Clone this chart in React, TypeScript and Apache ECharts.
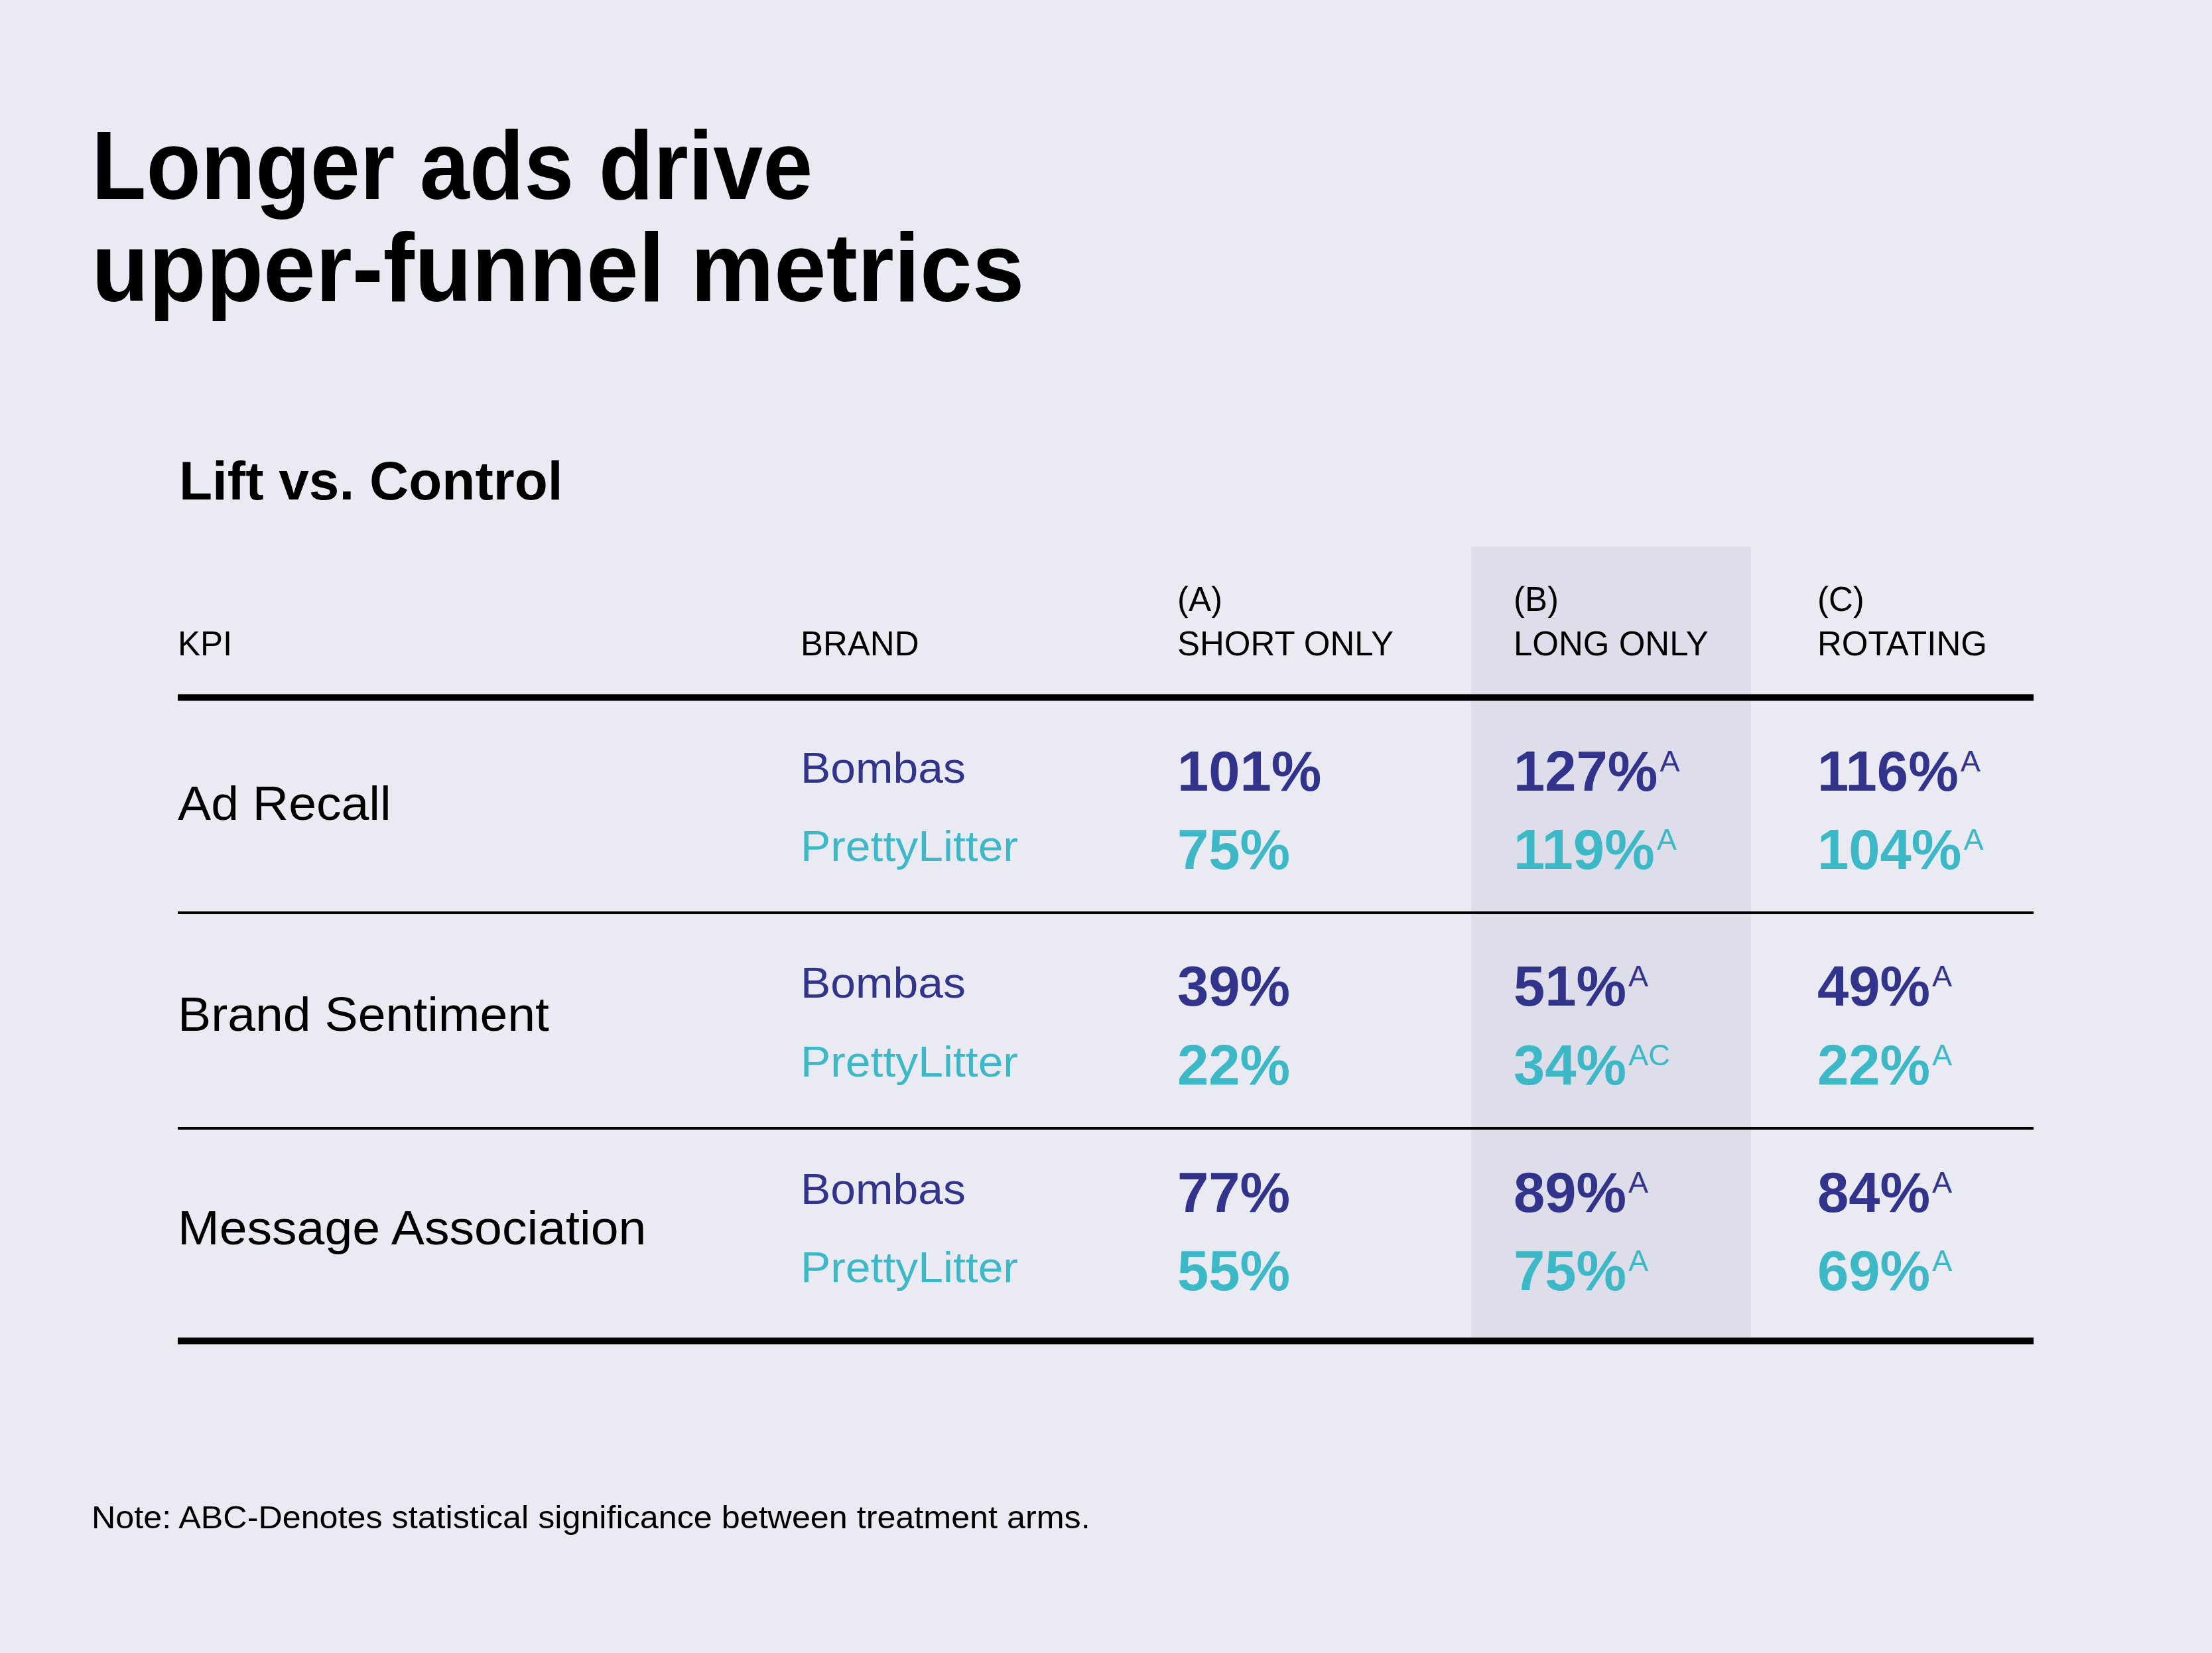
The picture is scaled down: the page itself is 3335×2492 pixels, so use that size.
import React, { useEffect, useRef } from "react";
import * as echarts from "echarts";

// ---------- data ----------
const TITLE_LINES = ["Longer ads drive", "upper-funnel metrics"];
const SUBTITLE = "Lift vs. Control";
const HEADER_KPI = "KPI";
const HEADER_BRAND = "BRAND";
const ARM_CODES = ["(A)", "(B)", "(C)"];
const ARM_NAMES = ["SHORT ONLY", "LONG ONLY", "ROTATING"];
const KPIS = ["Ad Recall", "Brand Sentiment", "Message Association"];
const BRANDS = ["Bombas", "PrettyLitter"];

// lift vs control (%), one entry per KPI
const BOMBAS_SHORT = [101, 39, 77];
const BOMBAS_LONG = [127, 51, 89];
const BOMBAS_ROTATING = [116, 49, 84];
const PRETTYLITTER_SHORT = [75, 22, 55];
const PRETTYLITTER_LONG = [119, 34, 75];
const PRETTYLITTER_ROTATING = [104, 22, 69];

// statistical significance markers, one entry per KPI
const BOMBAS_SHORT_SIG = ["", "", ""];
const BOMBAS_LONG_SIG = ["A", "A", "A"];
const BOMBAS_ROTATING_SIG = ["A", "A", "A"];
const PRETTYLITTER_SHORT_SIG = ["", "", ""];
const PRETTYLITTER_LONG_SIG = ["A", "AC", "A"];
const PRETTYLITTER_ROTATING_SIG = ["A", "A", "A"];

const NOTE = "Note: ABC-Denotes statistical significance between treatment arms.";

// values[brand][arm][kpi]
const VALUES = [
  [BOMBAS_SHORT, BOMBAS_LONG, BOMBAS_ROTATING],
  [PRETTYLITTER_SHORT, PRETTYLITTER_LONG, PRETTYLITTER_ROTATING],
];
const SIGS = [
  [BOMBAS_SHORT_SIG, BOMBAS_LONG_SIG, BOMBAS_ROTATING_SIG],
  [PRETTYLITTER_SHORT_SIG, PRETTYLITTER_LONG_SIG, PRETTYLITTER_ROTATING_SIG],
];

// ---------- styling / layout ----------
const W = 3335;
const H = 2492;
const FONT = '"Liberation Sans", Arial, Helvetica, sans-serif';
const BG = "#EAEAF2";
const SHADE = "#DEDEEA";
const BRAND_COLORS = ["#32338A", "#3CB8C7"];
const INK = "#000000";
const BASE_RATIO = 0.3465; // central baseline -> alphabetic baseline offset (em)

const LAYOUT = {
  titleX: 138,
  titleBase: [300, 454],
  titleRight: [1225, 1545],
  titleSize: 147,
  subX: 270,
  subBase: 753,
  subSize: 82,
  headSize: 51,
  headBase: [921, 988],
  kpiX: 268,
  kpiScale: 1.03,
  brandX: 1207,
  brandScale: 1.06,
  armX: [1775, 2282, 2740],
  ruleX0: 268,
  ruleX1: 3066,
  shade: { x: 2218, y: 824, w: 422, h: 1192 },
  thickY: [1051.5, 2021.5],
  thinY: [1376, 1701],
  kpiBase: [1236, 1554, 1876],
  kpiSize: 73,
  valBase: [
    [1192, 1310],
    [1516, 1635],
    [1827, 1945],
  ],
  valSize: 85,
  brandSize: 64,
  brandOffset: -12,
  supSize: 45,
  supGap: 3,
  noteX: 138,
  noteBase: 2304,
  noteSize: 49,
  noteScale: 1.026,
};

let measureCtx: CanvasRenderingContext2D | null = null;
function measure(text: string, fs: number, weight: string) {
  if (!measureCtx) measureCtx = document.createElement("canvas").getContext("2d");
  if (!measureCtx) return text.length * fs * 0.55;
  measureCtx.font = `${weight} ${fs}px ${FONT}`;
  return measureCtx.measureText(text).width;
}

function txt(
  text: string,
  x: number,
  baseline: number,
  fs: number,
  opts: { weight?: string; color?: string; scaleX?: number } = {}
) {
  return {
    type: "text",
    x,
    y: baseline - BASE_RATIO * fs,
    scaleX: opts.scaleX ?? 1,
    silent: true,
    style: {
      text,
      fontSize: fs,
      fontWeight: opts.weight ?? "normal",
      fontFamily: FONT,
      fill: opts.color ?? INK,
      align: "left",
      verticalAlign: "middle",
    },
  };
}

function buildElements() {
  const L = LAYOUT;
  const els: any[] = [];

  // shaded column (B)
  els.push({
    type: "rect",
    shape: { x: L.shade.x, y: L.shade.y, width: L.shade.w, height: L.shade.h },
    style: { fill: SHADE },
    silent: true,
  });

  // title
  TITLE_LINES.forEach((line, i) => {
    const w = measure(line, L.titleSize, "bold");
    const sx = (L.titleRight[i] - L.titleX) / w;
    els.push(txt(line, L.titleX, L.titleBase[i], L.titleSize, { weight: "bold", scaleX: sx }));
  });

  // subtitle
  els.push(txt(SUBTITLE, L.subX, L.subBase, L.subSize, { weight: "bold" }));

  // headers
  els.push(txt(HEADER_KPI, L.kpiX, L.headBase[1], L.headSize));
  els.push(txt(HEADER_BRAND, L.brandX, L.headBase[1], L.headSize));
  ARM_CODES.forEach((c, j) => {
    els.push(txt(c, L.armX[j], L.headBase[0], L.headSize));
    els.push(txt(ARM_NAMES[j], L.armX[j], L.headBase[1], L.headSize));
  });

  // rules
  L.thickY.forEach((y) =>
    els.push({
      type: "line",
      shape: { x1: L.ruleX0, y1: y, x2: L.ruleX1, y2: y },
      style: { stroke: INK, lineWidth: 10 },
      silent: true,
    })
  );
  L.thinY.forEach((y) =>
    els.push({
      type: "line",
      shape: { x1: L.ruleX0, y1: y, x2: L.ruleX1, y2: y },
      style: { stroke: INK, lineWidth: 4 },
      silent: true,
    })
  );

  // body
  KPIS.forEach((kpi, k) => {
    els.push(txt(kpi, L.kpiX, L.kpiBase[k], L.kpiSize, { scaleX: L.kpiScale }));
    BRANDS.forEach((brand, b) => {
      const base = L.valBase[k][b];
      const color = BRAND_COLORS[b];
      els.push(
        txt(brand, L.brandX, base + L.brandOffset, L.brandSize, { color, scaleX: L.brandScale })
      );
      ARM_CODES.forEach((_, a) => {
        const label = `${VALUES[b][a][k]}%`;
        const x = L.armX[a];
        els.push(txt(label, x, base, L.valSize, { weight: "bold", color }));
        const sig = SIGS[b][a][k];
        if (sig) {
          const w = measure(label, L.valSize, "bold");
          const capTop = base - 0.716 * L.valSize;
          const supBase = capTop + 0.716 * L.supSize;
          els.push(txt(sig, x + w + L.supGap, supBase, L.supSize, { color }));
        }
      });
    });
  });

  // note
  els.push(txt(NOTE, L.noteX, L.noteBase, L.noteSize, { scaleX: L.noteScale }));

  return els;
}

export default function App() {
  const ref = useRef<HTMLDivElement>(null);
  useEffect(() => {
    document.body.style.margin = "0";
    document.body.style.background = BG;
    if (!ref.current) return;
    const chart = echarts.init(ref.current, undefined, { renderer: "svg" });
    chart.setOption({
      animation: false,
      backgroundColor: BG,
      graphic: { elements: buildElements() },
    });
    return () => chart.dispose();
  }, []);
  return (
    <div
      ref={ref}
      style={{ position: "absolute", left: 0, top: 0, width: W, height: H }}
    />
  );
}
